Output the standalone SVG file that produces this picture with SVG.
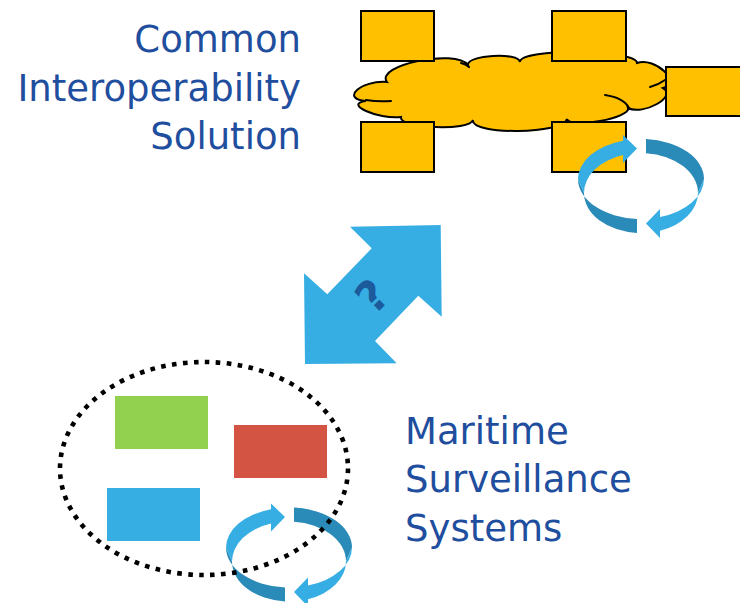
<svg xmlns="http://www.w3.org/2000/svg" xmlns:xlink="http://www.w3.org/1999/xlink" width="740" height="603" viewBox="0 0 740 603">
<style>
.ybox{fill:#FFC000;stroke:#000;stroke-width:2}
.cloud{fill:#FFC000;stroke:#000;stroke-width:2}
.inner{fill:none;stroke:#000;stroke-width:2;stroke-linecap:round}
.light{fill:#36AEE3}
.dark{fill:#2A8AB8}
.title{font-family:"DejaVu Sans",Verdana,sans-serif;font-size:37px;fill:#1F4E9E}
</style>
<defs>
<g id="cycle">
<path class="dark" d="M -63,-7 A 63 40 0 0 0 -4,32.9 L -4,46.9 A 57 40 0 0 1 -57,7 Z"/>
<path class="dark" d="M 5,-46.9 A 63 40 0 0 1 63,-7 L 57,7 A 57 40 0 0 0 5,-32.8 Z"/>
<path class="light" d="M -57,7 A 57 40 0 0 1 -18,-31 L -18,-23 L -4,-37.5 L -18,-51 L -18,-45.3 A 63 40 0 0 0 -63,-7 Z"/>
<path class="light" d="M 63,-7 A 63 40 0 0 1 19,31.1 L 19,23 L 5,37.5 L 19,52 L 19,44.7 A 57 40 0 0 0 57,7 Z"/>
</g>
</defs>

<g id="cis-cloud">
<path class="cloud" d="M 387,82 C 374.3,65.3 455.3,48.3 468,65 C 466.7,55 518.7,52 520,62 C 519.3,48 636.3,49 637,63 C 655.7,57 681.7,82 663,88 C 678.3,96 643.3,116 628,108 C 631.3,118 570.3,129 567,119 C 564.3,134.3 470.3,135.3 473,120 C 470.3,131.3 398.3,128.3 401,117 C 377.7,119.7 342.7,103.7 366,101 C 340,99 361,80 387,82 Z"/>
<path class="inner" d="M 366,100 Q 378,102 391,101"/>
<path class="inner" d="M 461,63 Q 466,64 469,67"/>
<path class="inner" d="M 650,87 Q 658,85 665,80"/>
<path class="inner" d="M 605,95 Q 624,98 629,108"/>
</g>

<g id="cis-box-tl"><rect class="ybox" x="361" y="11" width="73" height="50"/></g>
<g id="cis-box-tm"><rect class="ybox" x="552" y="11" width="74" height="50"/></g>
<g id="cis-box-r"><rect class="ybox" x="666" y="67" width="80" height="49"/></g>
<g id="cis-box-bl"><rect class="ybox" x="361" y="122" width="73" height="50"/></g>
<g id="cis-box-bm"><rect class="ybox" x="552" y="122" width="74" height="50"/></g>

<g id="cis-cycle"><use xlink:href="#cycle" transform="translate(641,186)"/></g>

<g id="cis-label">
<text class="title" x="301" y="52" text-anchor="end">Common</text>
<text class="title" x="301" y="101" text-anchor="end">Interoperability</text>
<text class="title" x="301" y="149" text-anchor="end">Solution</text>
</g>

<g id="connectors">
<polygon fill="#36AEE3" points="350,226.7 440.7,225 441.7,316.7 418.3,295.7 375,341 396.7,363.3 305,364 304,273.3 327.3,294.3 371.7,248.3"/>
<text x="372" y="296" transform="rotate(-45 372 296)" text-anchor="middle" dominant-baseline="central" font-family="DejaVu Sans,Verdana,sans-serif" font-weight="bold" font-size="44" fill="#1B5B9B">?</text>
</g>

<g id="mss-green"><rect x="115" y="396" width="93" height="53" fill="#92D050"/></g>
<g id="mss-red"><rect x="234" y="425" width="93" height="53" fill="#D35442"/></g>
<g id="mss-blue"><rect x="107" y="488" width="93" height="53" fill="#36AEE3"/></g>

<g id="mss-cycle"><use xlink:href="#cycle" transform="translate(289,554.5)"/></g>

<g id="mss-boundary">
<ellipse cx="204" cy="468.5" rx="144" ry="106.5" fill="none" stroke="#000" stroke-width="4.6" stroke-dasharray="4.6 6.4"/>
</g>

<g id="mss-label">
<text class="title" x="405" y="444">Maritime</text>
<text class="title" x="405" y="492">Surveillance</text>
<text class="title" x="405" y="541">Systems</text>
</g>
</svg>
